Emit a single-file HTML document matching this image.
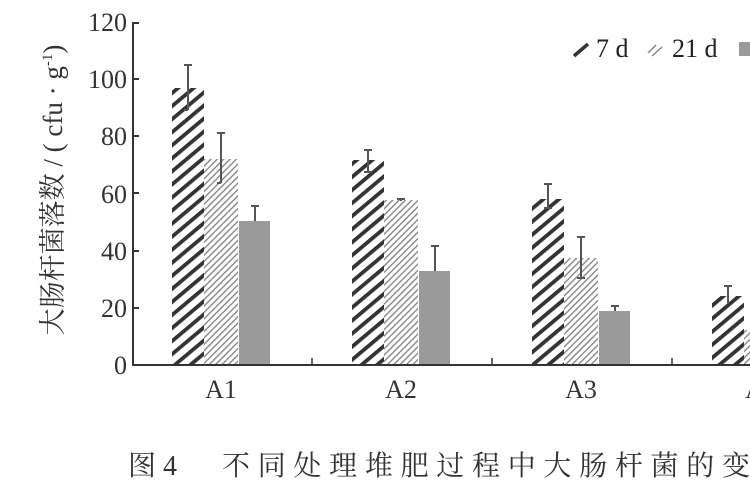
<!DOCTYPE html>
<html><head><meta charset="utf-8"><style>
html,body{margin:0;padding:0;background:#fff;}
svg{display:block;font-family:"Liberation Serif","Noto Serif CJK SC",serif;}
</style></head><body>
<svg width="750" height="500" viewBox="0 0 750 500" xmlns="http://www.w3.org/2000/svg">
<defs>
<pattern id="p7" patternUnits="userSpaceOnUse" width="10" height="10" patternTransform="rotate(-40)">
<rect width="10" height="10" fill="#fff"/><rect x="0" y="0" width="10" height="3.8" fill="#333"/>
</pattern>
<pattern id="p21" patternUnits="userSpaceOnUse" width="4.5" height="4.5" patternTransform="rotate(-45)">
<rect width="4.5" height="4.5" fill="#fff"/><rect x="0" y="0" width="4.5" height="1.4" fill="#888"/>
</pattern>
</defs>
<rect width="750" height="500" fill="#fff"/>
<g font-size="26" fill="#333" text-anchor="end">
<text x="127" y="374">0</text>
<text x="127" y="317">20</text>
<text x="127" y="260">40</text>
<text x="127" y="203">60</text>
<text x="127" y="145">80</text>
<text x="127" y="88">100</text>
<text x="127" y="31">120</text>
</g>
<text transform="translate(62,190) rotate(-90)" font-size="27" fill="#333" text-anchor="middle">大肠杆菌落数 / ( cfu · g<tspan dy="-10" font-size="15">-1</tspan><tspan dy="10">)</tspan></text>
<rect x="172" y="88" width="32" height="277" fill="url(#p7)"/>
<rect x="204" y="159" width="34" height="206" fill="url(#p21)"/>
<rect x="239" y="221" width="31" height="144" fill="#9a9a9a"/>
<rect x="352" y="160" width="32" height="205" fill="url(#p7)"/>
<rect x="384" y="200" width="34" height="165" fill="url(#p21)"/>
<rect x="419" y="271" width="31" height="94" fill="#9a9a9a"/>
<rect x="532" y="199" width="32" height="166" fill="url(#p7)"/>
<rect x="564" y="258" width="34" height="107" fill="url(#p21)"/>
<rect x="599" y="311" width="31" height="54" fill="#9a9a9a"/>
<rect x="712" y="296" width="32" height="69" fill="url(#p7)"/>
<rect x="744" y="330" width="6" height="35" fill="url(#p21)"/>
<g stroke="#555" stroke-width="2" fill="none">
<path d="M188 65V110M184 65h8M188 110h-4"/>
<path d="M221 133V183M217 133h8M221 183h-4"/>
<path d="M255 206V221M251 206h8"/>
<path d="M368 150V172M364 150h8M364 172h8"/>
<path d="M401 199V201M397 199h8"/>
<path d="M435 246V271M431 246h8"/>
<path d="M548 184V208M544 184h8M544 208h8"/>
<path d="M581 237V278M577 237h8M577 278h8"/>
<path d="M615 306V311M611 306h8"/>
<path d="M728 286V304M724 286h8"/>
</g>
<line x1="133" y1="22" x2="133" y2="366" stroke="#333" stroke-width="2"/>
<g stroke="#333" stroke-width="2">
<line x1="133" y1="23" x2="139" y2="23"/><line x1="133" y1="79" x2="139" y2="79"/><line x1="133" y1="136" x2="139" y2="136"/><line x1="133" y1="193" x2="139" y2="193"/><line x1="133" y1="251" x2="139" y2="251"/><line x1="133" y1="308" x2="139" y2="308"/>
</g>
<line x1="132" y1="365" x2="750" y2="365" stroke="#333" stroke-width="2"/>
<g stroke="#333" stroke-width="1.5"><line x1="312" y1="358" x2="312" y2="365"/><line x1="492" y1="358" x2="492" y2="365"/><line x1="672" y1="358" x2="672" y2="365"/></g>
<g font-size="26" fill="#333" text-anchor="middle">
<text x="221" y="398">A1</text>
<text x="401" y="398">A2</text>
<text x="581" y="398">A3</text>
<text x="761" y="398">A4</text>
</g>
<g>
<line x1="574" y1="56" x2="588" y2="44" stroke="#333" stroke-width="3.5"/>
<text x="596" y="57" font-size="26" fill="#222">7 d</text>
<line x1="648" y1="53" x2="656" y2="45" stroke="#888" stroke-width="1.5"/>
<line x1="652" y1="56" x2="662" y2="47" stroke="#888" stroke-width="1.5"/>
<text x="672" y="57" font-size="26" fill="#222">21 d</text>
<rect x="739" y="42" width="11" height="14" fill="#9a9a9a"/>
</g>
<text x="128" y="475" font-size="28" fill="#333">图 4</text>
<text x="222" y="475" font-size="28" fill="#333" textLength="528">不同处理堆肥过程中大肠杆菌的变</text>
</svg>
</body></html>
